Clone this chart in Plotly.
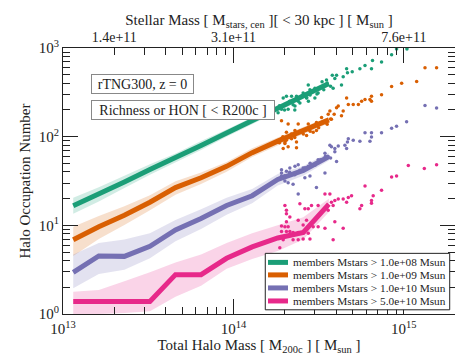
import plotly.graph_objects as go

# ---------------- data (log10 units) ----------------
bin_log_mhalo = [13.06, 13.21, 13.36, 13.51, 13.66, 13.81, 13.96, 14.11, 14.26, 14.41, 14.56]

green_med = [1.22, 1.35, 1.49, 1.63, 1.76, 1.90, 2.04, 2.18, 2.32, 2.46, 2.60]
green_hi = [1.31, 1.43, 1.56, 1.69, 1.81, 1.95, 2.08, 2.22, 2.355, 2.49, 2.63]
green_lo = [1.13, 1.27, 1.42, 1.57, 1.71, 1.85, 2.00, 2.14, 2.285, 2.43, 2.57]

orange_med = [0.838, 0.985, 1.114, 1.26, 1.426, 1.536, 1.665, 1.82, 1.95, 2.07, 2.19]
orange_hi = [0.985, 1.105, 1.214, 1.34, 1.496, 1.596, 1.715, 1.87, 1.99, 2.11, 2.22]
orange_lo = [0.654, 0.845, 1.004, 1.17, 1.346, 1.466, 1.605, 1.77, 1.90, 2.03, 2.15]

purple_med = [0.47, 0.654, 0.65, 0.764, 0.948, 1.077, 1.224, 1.334, 1.518, 1.62, 1.775]
purple_hi = [0.67, 0.80, 0.84, 0.91, 1.06, 1.18, 1.31, 1.41, 1.58, 1.67, 1.82]
purple_lo = [0.29, 0.45, 0.50, 0.63, 0.82, 0.96, 1.12, 1.25, 1.45, 1.56, 1.73]

pink_med = [0.14, 0.14, 0.14, 0.14, 0.444, 0.444, 0.628, 0.757, 0.857, 0.92, 1.24]
pink_hi = [0.25, 0.27, 0.37, 0.47, 0.58, 0.67, 0.80, 0.91, 1.00, 1.09, 1.30]
pink_lo = [0.0, 0.0, 0.01, 0.03, 0.195, 0.32, 0.51, 0.62, 0.71, 0.84, 1.15]

# individual halos (log10 M200c, log10 N)
green_pts_m = [14.816, 14.869, 14.928, 14.957, 15.018, 14.742, 14.772, 14.810, 14.664, 14.697, 14.669,
               14.644, 14.605, 14.580, 14.595, 14.634, 14.585, 14.546, 14.439, 14.449, 14.478, 14.497,
               14.409, 14.370, 14.341, 14.311, 14.292, 14.321, 14.282, 14.262, 14.380, 14.429, 14.478,
               14.361, 14.302, 14.27, 14.30, 14.33, 14.35, 14.37, 14.39, 14.41, 14.43, 14.45, 14.47,
               14.49, 14.51, 14.53, 14.55, 14.57, 14.52, 14.44, 14.36]
green_pts_n = [2.859, 2.841, 2.925, 2.988, 2.99, 2.767, 2.804, 2.767, 2.767, 2.731, 2.720,
               2.676, 2.694, 2.694, 2.657, 2.583, 2.547, 2.638, 2.583, 2.528, 2.547, 2.492,
               2.492, 2.455, 2.455, 2.455, 2.436, 2.308, 2.308, 2.271, 2.400, 2.436, 2.436,
               2.345, 2.363, 2.35, 2.30, 2.40, 2.36, 2.42, 2.38, 2.47, 2.44, 2.47, 2.52,
               2.48, 2.55, 2.53, 2.60, 2.57, 2.62, 2.40, 2.30]

orange_pts_m = [15.124, 15.192, 15.075, 14.987, 14.928, 14.869, 14.810, 14.801, 14.810, 14.752, 14.772,
                14.733, 14.703, 14.664, 14.674, 14.644, 14.615, 14.605, 14.566, 14.556, 14.591, 14.634,
                14.517, 14.575, 14.487, 14.439, 14.380, 14.321, 14.282, 14.311, 14.361, 14.341, 14.370,
                14.302, 14.468, 14.487, 14.282, 14.429, 14.302, 14.321, 14.370, 14.292,
                14.27, 14.29, 14.31, 14.34, 14.36, 14.39, 14.41, 14.43, 14.45, 14.47, 14.50, 14.52, 14.55, 14.57]
orange_pts_n = [2.778, 2.778, 2.621, 2.602, 2.566, 2.473, 2.455, 2.418, 2.400, 2.400, 2.418,
                2.363, 2.363, 2.436, 2.363, 2.290, 2.345, 2.326, 2.290, 2.253, 2.253, 2.235,
                2.216, 2.197, 2.161, 2.142, 2.142, 2.142, 2.180, 2.051, 2.070, 1.977, 1.940,
                1.940, 2.051, 2.070, 1.977, 2.014, 1.922, 1.885, 1.874, 1.866,
                1.93, 2.00, 1.96, 2.03, 1.99, 2.06, 2.03, 2.09, 2.06, 2.12, 2.10, 2.16, 2.14, 2.20]

purple_pts_m = [15.124, 15.192, 15.016, 14.957, 14.928, 14.869, 14.810, 14.810, 14.772, 14.801, 14.742,
                14.703, 14.674, 14.669, 14.664, 14.654, 14.566, 14.595, 14.615, 14.575, 14.595, 14.605,
                14.556, 14.537, 14.497, 14.468, 14.439, 14.449, 14.409, 14.380, 14.361, 14.361, 14.331,
                14.311, 14.282, 14.282, 14.302, 14.321, 14.380, 14.350, 14.487, 14.537, 14.419, 14.282,
                14.27, 14.30, 14.33, 14.36, 14.39, 14.42, 14.45, 14.48, 14.51, 14.54, 14.57]
purple_pts_n = [2.352, 2.323, 2.168, 2.117, 2.095, 2.043, 2.043, 1.996, 2.043, 1.948, 1.948,
                1.959, 1.977, 1.940, 1.866, 1.904, 1.904, 1.866, 1.896, 1.885, 1.830, 1.720,
                1.775, 1.812, 1.739, 1.684, 1.665, 1.555, 1.646, 1.684, 1.665, 1.591, 1.646,
                1.610, 1.591, 1.555, 1.499, 1.481, 1.353, 1.463, 1.426, 1.591, 1.536, 1.628,
                1.53, 1.56, 1.60, 1.57, 1.62, 1.65, 1.70, 1.68, 1.74, 1.78, 1.76]

pink_pts_m = [15.026, 15.120, 15.192, 14.957, 14.928, 14.869, 14.820, 14.772, 14.810, 14.810, 14.752,
              14.742, 14.693, 14.674, 14.644, 14.664, 14.615, 14.595, 14.575, 14.537, 14.566, 14.585,
              14.556, 14.595, 14.644, 14.585, 14.537, 14.497, 14.468, 14.439, 14.439, 14.419, 14.458,
              14.497, 14.390, 14.311, 14.302, 14.311, 14.331, 14.282, 14.302, 14.321, 14.380, 14.409,
              14.282, 14.311, 14.331, 14.350, 14.380, 14.409, 14.439, 14.429, 14.311, 14.292, 14.350,
              14.380, 14.409, 14.449, 14.272]
pink_pts_n = [1.676, 1.640, 1.684, 1.555, 1.544, 1.397, 1.334, 1.444, 1.279, 1.249, 1.224,
              1.187, 1.334, 1.315, 1.298, 1.260, 1.298, 1.279, 1.260, 1.353, 1.353, 1.224,
              1.169, 1.040, 0.967, 0.838, 0.967, 0.985, 0.985, 0.985, 1.187, 1.187, 1.224,
              1.224, 1.243, 1.169, 1.224, 1.132, 1.095, 0.992, 0.985, 0.985, 1.058, 1.003,
              0.930, 0.930, 0.930, 0.919, 0.919, 0.919, 0.912, 1.058, 1.040, 0.838, 0.838,
              0.838, 0.846, 0.846, 0.746]

series_names = ["members Mstars > 1.0e+08 Msun", "members Mstars > 1.0e+09 Msun",
                "members Mstars > 1.0e+10 Msun", "members Mstars > 5.0e+10 Msun"]

x_tick_vals = [1e13, 1e14, 1e15]
x_tick_labels = ["10<sup>13</sup>", "10<sup>14</sup>", "10<sup>15</sup>"]
y_tick_vals = [1, 10, 100, 1000]
y_tick_labels = ["10<sup>0</sup>", "10<sup>1</sup>", "10<sup>2</sup>", "10<sup>3</sup>"]
top_tick_mhalo = [2e13, 1e14, 1e15]
top_tick_labels = ["1.4e+11", "3.1e+11", "7.6e+11"]

# ---------------- figure ----------------
colors = ["#1b9e77", "#d95f02", "#7570b3", "#e7298a"]
fills = ["rgba(27,158,119,0.2)", "rgba(217,95,2,0.2)", "rgba(117,112,179,0.2)", "rgba(231,41,138,0.2)"]
meds = [green_med, orange_med, purple_med, pink_med]
his = [green_hi, orange_hi, purple_hi, pink_hi]
los = [green_lo, orange_lo, purple_lo, pink_lo]
pts = [(green_pts_m, green_pts_n), (orange_pts_m, orange_pts_n),
       (purple_pts_m, purple_pts_n), (pink_pts_m, pink_pts_n)]

p10 = lambda a: [10 ** v for v in a]
mx = p10(bin_log_mhalo)

fig = go.Figure()
for i in range(4):
    fig.add_trace(go.Scatter(x=mx + mx[::-1], y=p10(his[i]) + p10(los[i])[::-1], fill="toself",
                             fillcolor=fills[i], line=dict(width=0), mode="lines",
                             showlegend=False, hoverinfo="skip"))
for i in range(4):
    fig.add_trace(go.Scatter(x=mx, y=p10(meds[i]), mode="lines", name=series_names[i],
                             line=dict(color=colors[i], width=5), showlegend=False))
for i in range(4):
    fig.add_trace(go.Scatter(x=p10(pts[i][0]), y=p10(pts[i][1]), mode="markers",
                             marker=dict(color=colors[i], size=3.5), showlegend=False))
# invisible trace for top axis
fig.add_trace(go.Scatter(x=top_tick_mhalo, y=[1, 1, 1], xaxis="x2", mode="markers",
                         marker=dict(opacity=0), showlegend=False, hoverinfo="skip"))

font = "Liberation Serif"
axcol = "#222222"
fig.update_layout(
    width=463, height=358,
    margin=dict(l=55, r=16, t=34, b=52),
    paper_bgcolor="white", plot_bgcolor="white",
    font=dict(family=font, size=14, color="#222"),
    showlegend=False,
    xaxis=dict(type="log", range=[13, 15.30], showgrid=False, zeroline=False,
               showline=True, linecolor=axcol, linewidth=1, mirror="ticks",
               ticks="inside", ticklen=15, tickcolor=axcol,
               tickvals=x_tick_vals, ticktext=x_tick_labels,
               tickfont=dict(size=15), ticklabelstandoff=1,
               minor=dict(ticks="inside", ticklen=7, tickcolor=axcol, dtick="D1", showgrid=False),
               title=dict(text="Total Halo Mass [ M<sub>200c</sub> ] [ M<sub>sun</sub> ]",
                          font=dict(size=15), standoff=0)),
    xaxis2=dict(type="log", range=[13, 15.30], overlaying="x", side="top", showgrid=False,
                zeroline=False, showline=False, ticks="", tickvals=top_tick_mhalo,
                ticktext=top_tick_labels, tickfont=dict(size=14), ticklabelstandoff=2,
                title=dict(text="Stellar Mass [ M<sub>stars, cen</sub> ][ < 30 kpc ] [ M<sub>sun</sub> ]",
                           font=dict(size=15), standoff=0)),
    yaxis=dict(type="log", range=[0, 3], showgrid=False, zeroline=False,
               showline=True, linecolor=axcol, linewidth=1, mirror="ticks",
               ticks="inside", ticklen=15, tickcolor=axcol,
               tickvals=y_tick_vals, ticktext=y_tick_labels, tickfont=dict(size=15),
               minor=dict(ticks="inside", ticklen=7, tickcolor=axcol, dtick="D1", showgrid=False),
               title=dict(text="Halo Occupation Number", font=dict(size=15), standoff=4)),
)

# text boxes
fig.add_annotation(text="rTNG300, z = 0", xref="paper", yref="paper", x=0.072, y=0.904,
                   xanchor="left", yanchor="top", showarrow=False, bordercolor="#888",
                   borderwidth=1, borderpad=1, bgcolor="white", font=dict(size=14),
                   width=99, height=16)
fig.add_annotation(text="Richness or HON [ < R200c ]", xref="paper", yref="paper", x=0.072, y=0.806,
                   xanchor="left", yanchor="top", showarrow=False, bordercolor="#888",
                   borderwidth=1, borderpad=1, bgcolor="white", font=dict(size=14),
                   width=180, height=16)

# compact legend box (drawn with paper-referenced shapes and text)
fig.add_shape(type="rect", xref="paper", yref="paper", x0=0.516, x1=0.9865, y0=0.0158, y1=0.228,
              line=dict(color="#222", width=1), fillcolor="white", layer="above")
row_y = [0.194, 0.147, 0.098, 0.049]
for i in range(4):
    fig.add_shape(type="line", xref="paper", yref="paper", x0=0.523, x1=0.574, y0=row_y[i], y1=row_y[i],
                  line=dict(color=colors[i], width=5), layer="above")
    fig.add_annotation(text=series_names[i], xref="paper", yref="paper", x=0.5816, y=row_y[i],
                       xanchor="left", yanchor="middle", showarrow=False, font=dict(size=11.3))

fig.write_html("out.html")
